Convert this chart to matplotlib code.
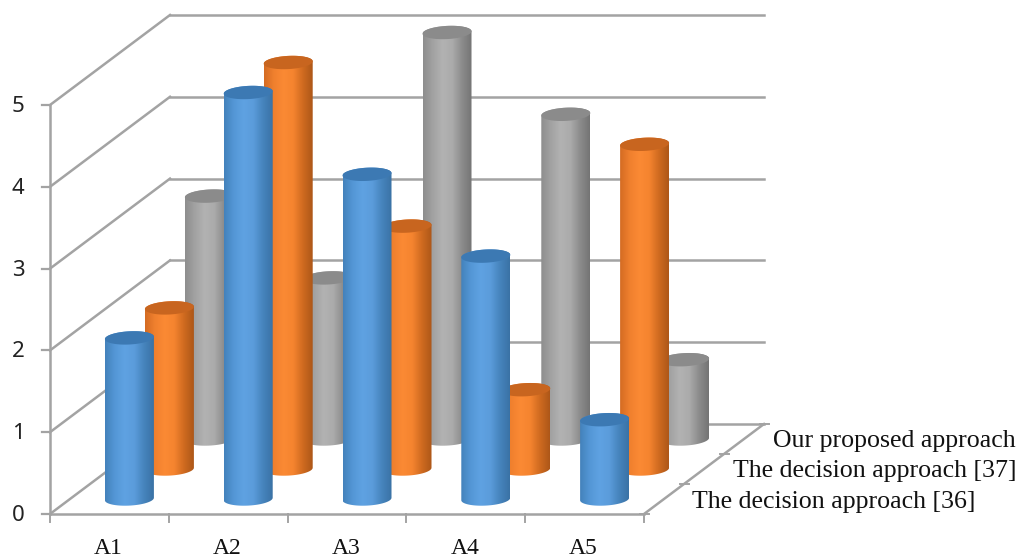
import numpy as np
import matplotlib
matplotlib.use("Agg")
import matplotlib.pyplot as plt
from matplotlib.colors import LinearSegmentedColormap
from matplotlib.patches import Polygon

categories = ["A1", "A2", "A3", "A4", "A5"]
series_names = ["The decision approach [36]", "The decision approach [37]", "Our proposed approach"]
blue_values = [2, 5, 4, 3, 1]
orange_values = [2, 5, 3, 1, 4]
gray_values = [3, 2, 5, 4, 1]
y_ticks = [0, 1, 2, 3, 4, 5]

# pixel geometry of the fake 3d box
X0, Y0 = 50, 514
CAT_W = 118.8
UNIT = 81.8
DEPTH_X, DEPTH_Y = 120, -90
RADIUS = 24.5
MINOR = 6.6
TILT = 0.05
TOP_DROP = 2.5
GRID = "#a3a3a3"


def project(cat, depth, value):
    # cat in category units, depth 0..1 front to back
    x = X0 + cat * CAT_W + depth * DEPTH_X
    y = Y0 + depth * DEPTH_Y - value * UNIT
    return x, y


def ellipse_pts(cx, cy, t):
    return cx + RADIUS * np.cos(t), cy + MINOR * np.sin(t) - RADIUS * TILT * np.cos(t)


def cylinder(ax, cat, depth, value, stops, top_color):
    cx, y_bot = project(cat, depth, 0)
    _, y_top = project(cat, depth, value)
    y_top += TOP_DROP

    tb = np.linspace(np.pi, 0, 40)
    xb, yb = ellipse_pts(cx, y_bot, tb)
    tt = np.linspace(0, np.pi, 40)
    xt, yt = ellipse_pts(cx, y_top, tt - np.pi)
    body = Polygon(np.column_stack([np.r_[xb, xt[::-1]], np.r_[yb, yt[::-1]]]),
                   closed=True, facecolor="none", edgecolor="none", transform=ax.transData)
    ax.add_patch(body)

    cmap = LinearSegmentedColormap.from_list("c", stops)
    grad = np.linspace(0, 1, 128).reshape(1, -1)
    im = ax.imshow(grad, cmap=cmap, aspect="auto", interpolation="bilinear",
                   extent=(cx - RADIUS, cx + RADIUS, y_bot + 12, y_top - 12), zorder=3)
    im.set_clip_path(body)

    t = np.linspace(0, 2 * np.pi, 80)
    x_c, y_c = ellipse_pts(cx, y_top, t)
    ax.add_patch(Polygon(np.column_stack([x_c, y_c]), closed=True, facecolor=top_color,
                         edgecolor="none", zorder=3))


fig = plt.figure(figsize=(10.17, 5.58), dpi=100)
ax = fig.add_axes([0, 0, 1, 1])
ax.axis("off")

# walls and floor
for v in y_ticks:
    xf, yf = project(0, 0, v)
    xb, yb = project(0, 1, v)
    xr, _ = project(5, 1, v)
    ax.plot([xf, xb], [yf, yb], color=GRID, lw=1.8, zorder=1)
    ax.plot([xb, xr], [yb, yb], color=GRID, lw=1.8, zorder=1)
    ax.plot([xf - 8, xf], [yf, yf], color=GRID, lw=1.6, zorder=1)
    ax.text(xf - 32, yf + 1.5, str(v), ha="center", va="center", fontsize=16,
            family="Noto Sans", color="#222222")

x5, y5 = project(0, 0, 5)
ax.plot([X0, x5], [Y0, y5], color=GRID, lw=1.8, zorder=1)
xe, ye = project(5, 0, 0)
ax.plot([X0, xe], [Y0, ye], color=GRID, lw=1.8, zorder=1)
xr, yr = project(5, 1, 0)
ax.plot([xe, xr], [ye, yr], color=GRID, lw=1.8, zorder=1)

for i in range(6):
    xt, yt = project(i, 0, 0)
    ax.plot([xt, xt], [yt, yt + 8], color=GRID, lw=1.4, zorder=1)
for d in [0, 1 / 3, 2 / 3, 1]:
    xt, yt = project(5, d, 0)
    ax.plot([xt - 4, xt + 5], [yt, yt], color=GRID, lw=1.4, zorder=1)

for i, name in enumerate(categories):
    xt, _ = project(i + 0.5, 0, 0)
    ax.text(xt - 1, 548, name, ha="center", va="center", fontsize=17,
            family="Liberation Serif", color="#111111")

label_x = [692, 733, 773]
label_y = [502, 471, 441]
for name, lx, ly in zip(series_names, label_x, label_y):
    ax.text(lx, ly, name, ha="left", va="center", fontsize=18.6,
            family="Liberation Serif", color="#111111")

blue = ["#4382bb", "#5497d6", "#5fa2e2", "#5b9cdb", "#4684bd", "#3a72a5"]
orange = ["#d46c23", "#f0802e", "#fb8a34", "#f5842f", "#cf6a20", "#ad5718"]
gray = ["#8e8e8e", "#a2a2a2", "#b2b2b2", "#ababab", "#8c8c8c", "#747474"]

# back row first so the front row covers it
for i, v in enumerate(gray_values):
    cylinder(ax, i + 0.5, 5 / 6, v, gray, "#8b8b8b")
for i, v in enumerate(orange_values):
    cylinder(ax, i + 0.5, 1 / 2, v, orange, "#c8651f")
for i, v in enumerate(blue_values):
    cylinder(ax, i + 0.5, 1 / 6, v, blue, "#3c79b3")

ax.set_xlim(0, 1017)
ax.set_ylim(558, 0)
fig.savefig("out.png", dpi=100)
